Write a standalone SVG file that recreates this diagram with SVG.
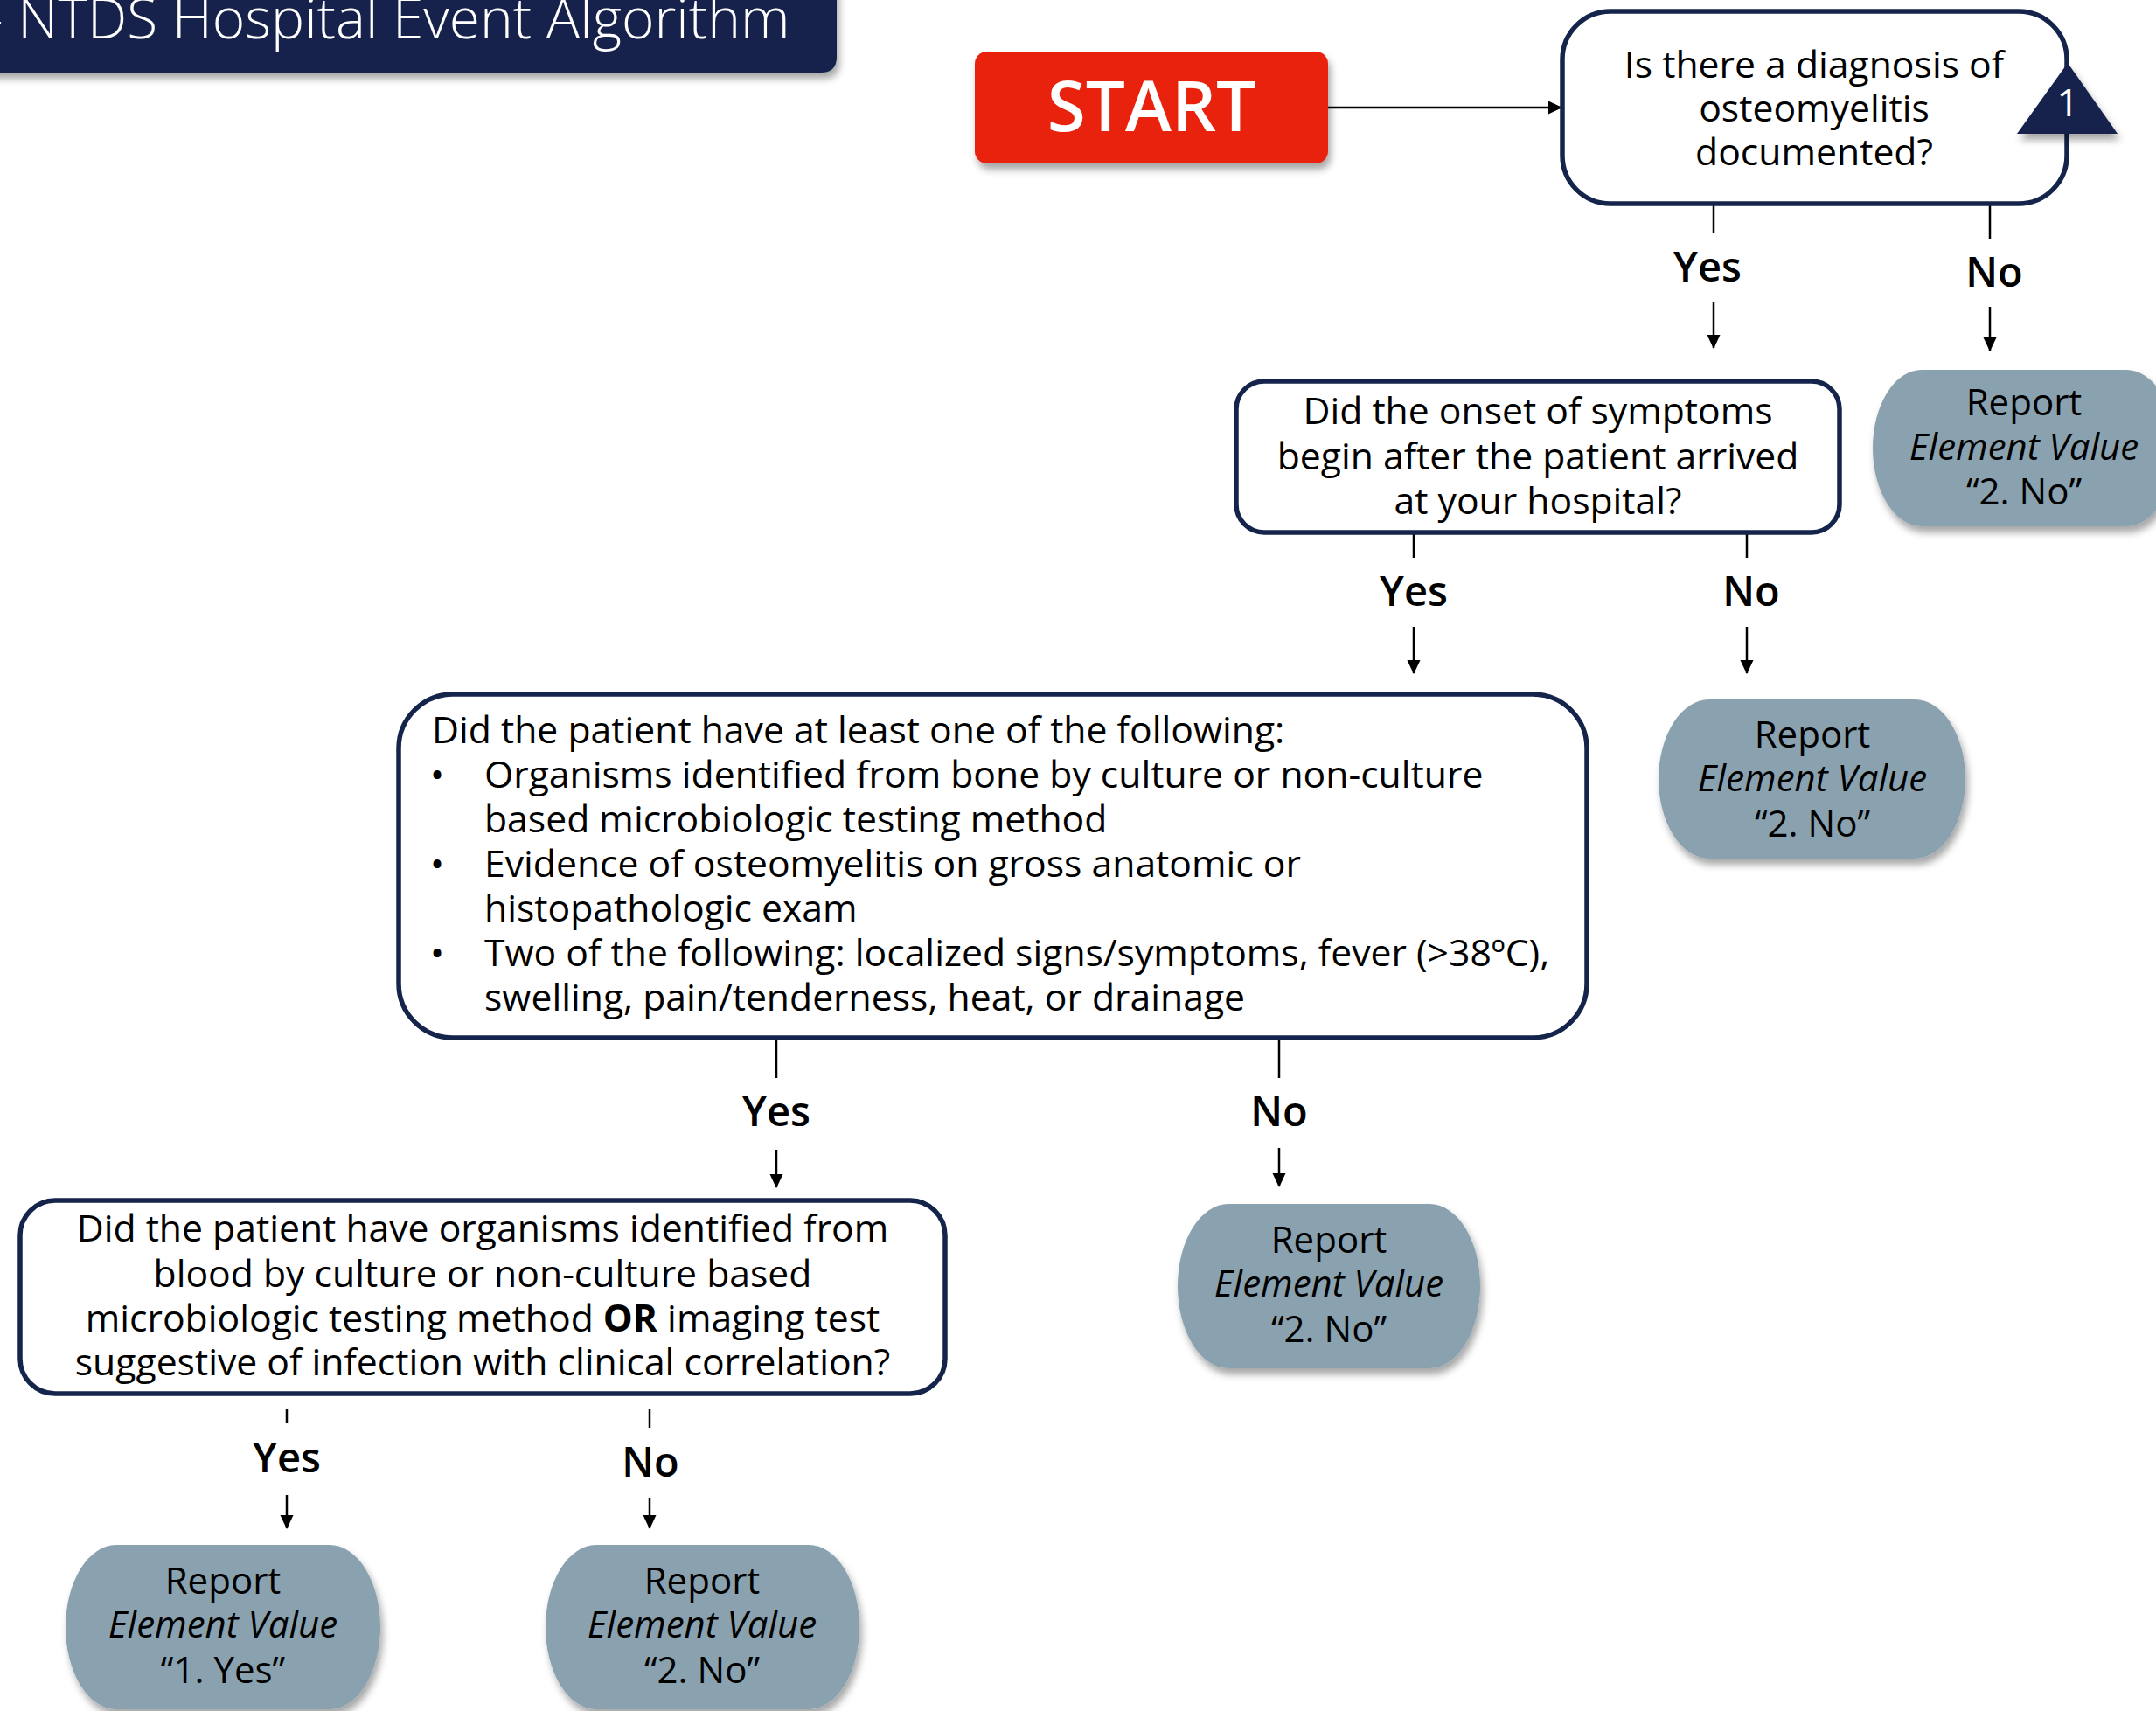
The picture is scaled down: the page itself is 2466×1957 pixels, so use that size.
<svg xmlns="http://www.w3.org/2000/svg" width="2466" height="1957" viewBox="0 0 2466 1957">
  <defs>
    <filter id="shadow" x="-10%" y="-10%" width="130%" height="140%">
      <feDropShadow dx="3" dy="7" stdDeviation="4" flood-color="#000" flood-opacity="0.35"/>
    </filter>
    <marker id="arrow" markerUnits="userSpaceOnUse" markerWidth="16" markerHeight="16" viewBox="0 0 16 16" refX="15" refY="8" orient="auto">
      <path d="M0,0.5 L16,8 L0,15.5 Z" fill="#000"/>
    </marker>
    <style>
      text { font-family: "Open Sans", "Liberation Sans", sans-serif; fill: #000; }
      .body { font-size: 42.7px; }
      .rep { font-size: 42px; }
      .center { text-anchor: middle; }
      .label { font-size: 47px; font-weight: 600; text-anchor: middle; }
      .it { font-style: italic; }
      .decision { fill: #fff; stroke: #14244b; stroke-width: 5.5; }
      .report { fill: #8aa2af; filter: url(#shadow); }
      .conn line { stroke: #000; stroke-width: 2.5; }
      .conn line.arr { marker-end: url(#arrow); }
    </style>
  </defs>

  <rect width="2466" height="1957" fill="#fff"/>

  <!-- title banner -->
  <g id="title">
    <path d="M-30,-30 H957 V65 Q957,83 939,83 H-30 Z" fill="#13234b" filter="url(#shadow)"/>
    <text x="-17" y="44" font-size="64" font-weight="300" style="fill:#fff">- NTDS Hospital Event Algorithm</text>
  </g>

  <!-- connectors -->
  <g id="connectors" class="conn">
    <line class="arr" x1="1519" y1="123" x2="1786" y2="123"/>

    <line x1="1960" y1="235" x2="1960" y2="267"/>
    <line class="arr" x1="1960" y1="345" x2="1960" y2="398"/>
    <line x1="2276" y1="235" x2="2276" y2="273"/>
    <line class="arr" x1="2276" y1="351" x2="2276" y2="401"/>

    <line x1="1617" y1="611" x2="1617" y2="638"/>
    <line class="arr" x1="1617" y1="717" x2="1617" y2="770"/>
    <line x1="1998" y1="611" x2="1998" y2="638"/>
    <line class="arr" x1="1998" y1="717" x2="1998" y2="770"/>

    <line x1="888" y1="1189" x2="888" y2="1233"/>
    <line class="arr" x1="888" y1="1315" x2="888" y2="1358"/>
    <line x1="1463" y1="1189" x2="1463" y2="1233"/>
    <line class="arr" x1="1463" y1="1313" x2="1463" y2="1357"/>

    <line x1="328" y1="1612" x2="328" y2="1628"/>
    <line class="arr" x1="328" y1="1710" x2="328" y2="1748"/>
    <line x1="743" y1="1612" x2="743" y2="1633"/>
    <line class="arr" x1="743" y1="1713" x2="743" y2="1748"/>

    <text class="label" x="1953" y="322">Yes</text>
    <text class="label" x="2281" y="328">No</text>
    <text class="label" x="1617" y="693">Yes</text>
    <text class="label" x="2003" y="693">No</text>
    <text class="label" x="888" y="1288">Yes</text>
    <text class="label" x="1463" y="1288">No</text>
    <text class="label" x="328" y="1684">Yes</text>
    <text class="label" x="744" y="1689">No</text>
  </g>

  <!-- start terminal -->
  <g id="start">
    <rect x="1115" y="59" width="404" height="128" rx="14" fill="#e8230a" filter="url(#shadow)"/>
    <text x="1317" y="150" font-size="80" font-weight="600" text-anchor="middle" style="fill:#fff">START</text>
  </g>

  <!-- decision 1 with reference marker -->
  <g id="q-diagnosis">
    <rect class="decision" x="1787" y="13" width="577" height="220" rx="55"/>
    <text class="body center" x="2075" y="89">Is there a diagnosis of</text>
    <text class="body center" x="2075" y="139">osteomyelitis</text>
    <text class="body center" x="2075" y="189">documented?</text>
  </g>
  <g id="ref-1">
    <path d="M2365,72 L2422,153 L2307,153 Z" fill="#13234b" filter="url(#shadow)"/>
    <text x="2365" y="133" font-size="44" text-anchor="middle" style="fill:#fff">1</text>
  </g>

  <g id="q-onset">
    <rect class="decision" x="1414" y="436" width="690" height="173" rx="32"/>
    <text class="body center" x="1759" y="485">Did the onset of symptoms</text>
    <text class="body center" x="1759" y="537">begin after the patient arrived</text>
    <text class="body center" x="1759" y="588">at your hospital?</text>
  </g>

  <g id="q-criteria">
    <rect class="decision" x="456" y="794" width="1359" height="393" rx="62"/>
    <text class="body" x="494" y="850">Did the patient have at least one of the following:</text>
    <text class="body" x="492" y="901">•</text>
    <text class="body" x="554" y="901">Organisms identified from bone by culture or non-culture</text>
    <text class="body" x="554" y="952">based microbiologic testing method</text>
    <text class="body" x="492" y="1003">•</text>
    <text class="body" x="554" y="1003">Evidence of osteomyelitis on gross anatomic or</text>
    <text class="body" x="554" y="1054">histopathologic exam</text>
    <text class="body" x="492" y="1105">•</text>
    <text class="body" x="554" y="1105">Two of the following: localized signs/symptoms, fever (&gt;38ºC),</text>
    <text class="body" x="554" y="1156">swelling, pain/tenderness, heat, or drainage</text>
  </g>

  <g id="q-blood">
    <rect class="decision" x="23" y="1373" width="1058" height="221" rx="40"/>
    <text class="body center" x="552" y="1420">Did the patient have organisms identified from</text>
    <text class="body center" x="552" y="1472">blood by culture or non-culture based</text>
    <text class="body center" x="552" y="1523">microbiologic testing method <tspan font-weight="700">OR</tspan> imaging test</text>
    <text class="body center" x="552" y="1573">suggestive of infection with clinical correlation?</text>
  </g>

  <!-- report outcomes -->
  <g id="report-no-1">
    <rect class="report" x="2142" y="423" width="346" height="179" rx="56" ry="89.5"/>
    <text class="rep center" x="2315" y="475">Report</text>
    <text class="rep center it" x="2315" y="526">Element Value</text>
    <text class="rep center" x="2315" y="577">“2. No”</text>
  </g>
  <g id="report-no-2">
    <rect class="report" x="1897" y="800" width="351" height="182" rx="58" ry="91"/>
    <text class="rep center" x="2073" y="855">Report</text>
    <text class="rep center it" x="2073" y="905">Element Value</text>
    <text class="rep center" x="2073" y="957">“2. No”</text>
  </g>
  <g id="report-no-3">
    <rect class="report" x="1347" y="1377" width="346" height="188" rx="58" ry="94"/>
    <text class="rep center" x="1520" y="1433">Report</text>
    <text class="rep center it" x="1520" y="1483">Element Value</text>
    <text class="rep center" x="1520" y="1535">“2. No”</text>
  </g>
  <g id="report-yes">
    <rect class="report" x="75" y="1767" width="360" height="188" rx="58" ry="94"/>
    <text class="rep center" x="255" y="1823">Report</text>
    <text class="rep center it" x="255" y="1873">Element Value</text>
    <text class="rep center" x="255" y="1925">“1. Yes”</text>
  </g>
  <g id="report-no-4">
    <rect class="report" x="624" y="1767" width="359" height="188" rx="58" ry="94"/>
    <text class="rep center" x="803" y="1823">Report</text>
    <text class="rep center it" x="803" y="1873">Element Value</text>
    <text class="rep center" x="803" y="1925">“2. No”</text>
  </g>
</svg>
